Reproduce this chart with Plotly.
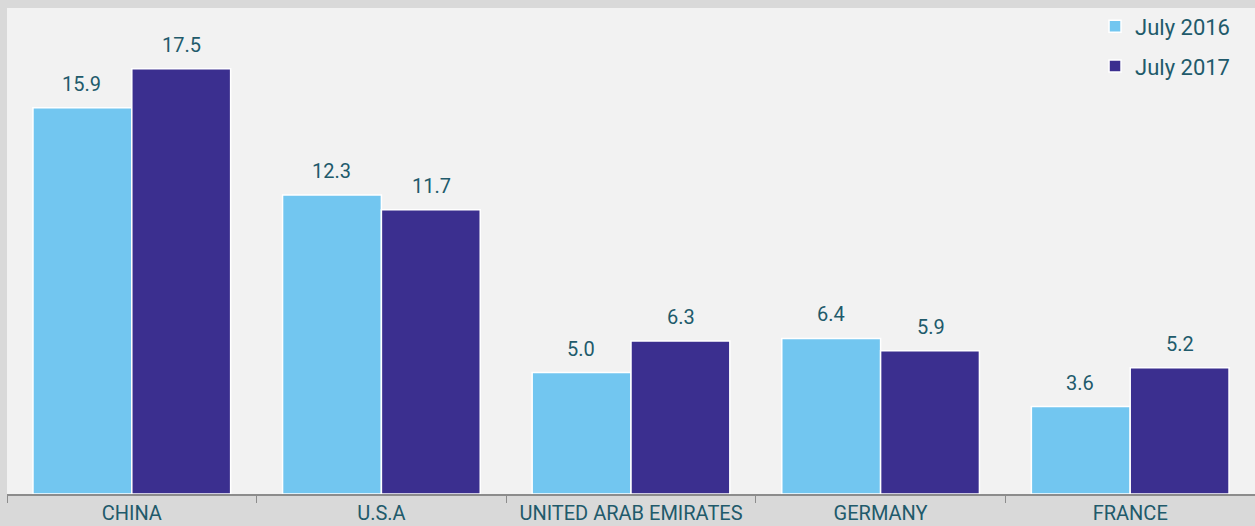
import plotly.graph_objects as go

categories = ["CHINA", "U.S.A", "UNITED ARAB EMIRATES", "GERMANY", "FRANCE"]
july_2016 = [15.9, 12.3, 5.0, 6.4, 3.6]
july_2017 = [17.5, 11.7, 6.3, 5.9, 5.2]
series_names = ["July 2016", "July 2017"]
series_colors = ["#72c6f0", "#3b2f8f"]

txt_color = "#215a6b"
font_family = "Roboto, Noto Sans, sans-serif"

fig = go.Figure()
for i, (name, vals) in enumerate(zip(series_names, [july_2016, july_2017])):
    fig.add_trace(go.Bar(
        x=categories, y=vals, name=name, legendgroup=name,
        marker=dict(color=series_colors[i], line=dict(color="white", width=1.5)),
        hoverinfo="x+y",
    ))
    shift = -50 if i == 0 else 50
    for c, v in zip(categories, vals):
        fig.add_annotation(
            x=c, y=v, xref="x", yref="y", text=f"{v:.1f}", showarrow=False,
            xanchor="center", yanchor="bottom", xshift=shift, yshift=10,
            font=dict(size=20, color=txt_color, family=font_family),
        )

fig.update_layout(
    width=1255, height=526,
    margin=dict(l=7, r=0, t=8, b=32),
    paper_bgcolor="#d9d9d9", plot_bgcolor="#f2f2f2",
    barmode="group", bargap=0.208, bargroupgap=0.0,
    font=dict(family=font_family, color=txt_color),
    legend=dict(x=0.984, y=1.005, xanchor="right", yanchor="top",
                font=dict(size=22, color=txt_color), bgcolor="rgba(0,0,0,0)",
                itemwidth=30, tracegroupgap=8),
    showlegend=True,
)
fig.update_xaxes(showline=True, linecolor="#8c8c8c", linewidth=2, ticks="outside",
                 tickson="boundaries", ticklen=7, tickcolor="#8c8c8c", tickwidth=1,
                 tickfont=dict(size=20, color=txt_color), showgrid=False)
fig.update_yaxes(range=[0, 20], visible=False, showgrid=False)

fig.write_html("out.html", config={"displayModeBar": False},
               post_script="document.body.style.margin='0';")
